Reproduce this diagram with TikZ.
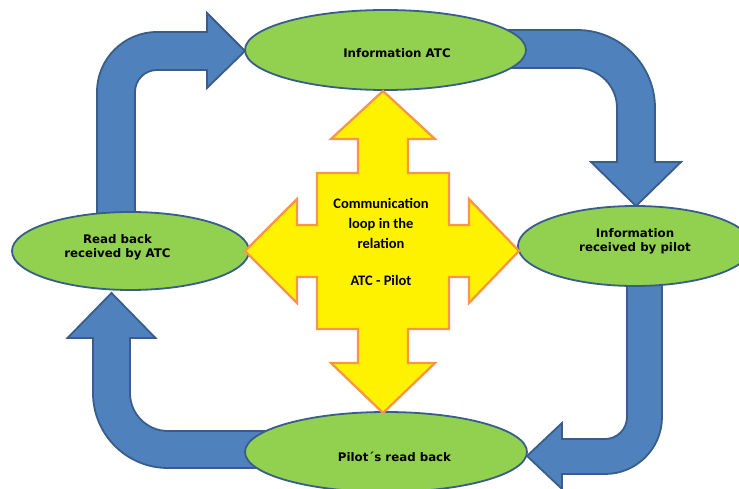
\documentclass[tikz,border=0pt]{standalone}
\usepackage{fontspec}
\setmainfont{DejaVu Sans}
\newfontfamily\loopfont{Carlito}
\usetikzlibrary{shapes.geometric}
\definecolor{arrowblue}{HTML}{4F81BD}
\definecolor{rimblue}{HTML}{385D8A}
\definecolor{stagegreen}{HTML}{92D050}
\definecolor{crossrim}{HTML}{F79646}
\begin{document}
\begin{tikzpicture}
  [x=1pt,y=-1pt,every node/.style={font=\bfseries\fontsize{11.8}{14}\selectfont,align=center,inner sep=0pt}]
  \tikzstyle{stage} = [draw=rimblue,line width=1.8pt,fill=stagegreen,ellipse]
  \tikzstyle{flow} = [draw=rimblue,line width=1.8pt,fill=arrowblue,line join=miter]
  \tikzstyle{cross} = [draw=crossrim,line width=2.3pt,fill=yellow,line join=miter]
  \clip (0,0) rectangle (739,489);

  % blue loop arrows
  \draw[flow] (97,235) -- (97,92) arc[start angle=180,end angle=270,radius=60] -- (207,32) -- (207,13)
    -- (245,51) -- (207,88) -- (207,70) -- (157,70) arc[start angle=270,end angle=180,radius=22] -- (135,235) -- cycle;
  \draw[flow] (480,30) -- (577,30) arc[start angle=270,end angle=360,radius=78] -- (655,162) -- (681,162)
    -- (636,206) -- (591,162) -- (617,162) -- (617,108) arc[start angle=0,end angle=-90,radius=40] -- (480,68) -- cycle;
  \draw[flow] (627,270) -- (627,417) arc[start angle=0,end angle=90,radius=22] -- (562,439) -- (562,423)
    -- (527,456) -- (562,489) -- (562,474) -- (605,474) arc[start angle=90,end angle=0,radius=57] -- (662,270) -- cycle;
  \draw[flow] (270,431) -- (168,431) arc[start angle=90,end angle=180,radius=38] -- (130,338) -- (155.5,338)
    -- (111.5,293) -- (67.5,338) -- (93,338) -- (93,393) arc[start angle=180,end angle=90,radius=75] -- (270,468) -- cycle;

  \foreach \name/\pos/\wid/\hei in {atcinfo/{(385.5,50)}/281/80,atcread/{(130.5,251)}/237/78,
      pilotinfo/{(635,246)}/234/80,pilotread/{(386,452)}/282/80}
    \node[stage,minimum width=\wid pt,minimum height=\hei pt] (\name) at \pos {};

  % four way arrow in the middle
  \begin{scope}[shift={(383,251)}]
    \draw[cross] (0,-160) -- (52,-112) -- (25,-112) -- (25,-78) -- (66,-78) -- (66,-26) -- (86,-26) -- (86,-52)
      -- (136,0) -- (86,52) -- (86,26) -- (66,26) -- (66,78) -- (25,78) -- (25,112) -- (52,112)
      -- (0,162) -- (-52,112) -- (-25,112) -- (-25,78) -- (-66,78) -- (-66,26) -- (-86,26) -- (-86,52)
      -- (-138,0) -- (-86,-52) -- (-86,-26) -- (-66,-26) -- (-66,-78) -- (-25,-78) -- (-25,-112) -- (-52,-112) -- cycle;
  \end{scope}

  \foreach \name/\pos/\txt in {atcinfotext/{(397,53)}/{Information ATC},atcreadtext/{(117.5,247)}/{Read back\\received by ATC},
      pilotinfotext/{(635,241.5)}/{Information\\received by pilot},pilotreadtext/{(394.5,457)}/{Pilot´s read back}}
    \node (\name) at \pos {\txt};
  \node[font=\loopfont\bfseries\fontsize{14.5}{20}\selectfont] (looptext) at (381,242)
    {Communication\\loop in the\\relation\\[17pt]ATC - Pilot};
\end{tikzpicture}
\end{document}
